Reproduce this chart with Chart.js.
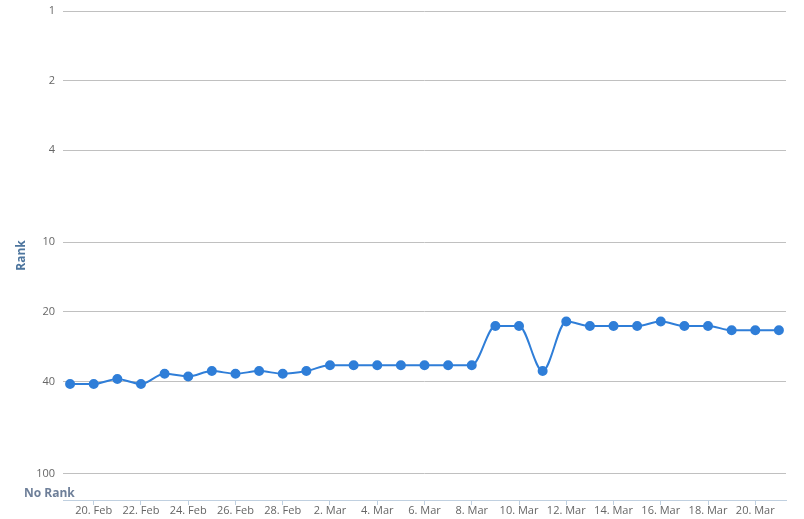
<!DOCTYPE html>
<html>
<head>
<meta charset="utf-8">
<script src="https://cdn.jsdelivr.net/npm/chart.js@4/dist/chart.umd.min.js"></script>
<style>
  html, body { margin: 0; padding: 0; background: #fff; }
  #wrap { width: 804px; height: 519px; position: relative; }
</style>
</head>
<body>
<div id="wrap"><canvas id="chart"></canvas></div>
<script>
//days shown, one point per day (19 Feb .. 21 Mar)
const days = [
  "19. Feb", "20. Feb", "21. Feb", "22. Feb", "23. Feb", "24. Feb", "25. Feb", "26. Feb", "27. Feb", "28. Feb",
  "1. Mar", "2. Mar", "3. Mar", "4. Mar", "5. Mar", "6. Mar", "7. Mar", "8. Mar", "9. Mar", "10. Mar",
  "11. Mar", "12. Mar", "13. Mar", "14. Mar", "15. Mar", "16. Mar", "17. Mar", "18. Mar", "19. Mar", "20. Mar", "21. Mar"
];
//rank on each day
const ranks = [
  41, 41, 39, 41, 37, 38, 36, 37, 36, 37,
  36, 34, 34, 34, 34, 34, 34, 34, 23, 23,
  36, 22, 23, 23, 23, 22, 23, 23, 24, 24, 24
];
//tick labels
const yTicks = [1, 2, 4, 10, 20, 40, 100];
const xTickDays = [1, 3, 5, 7, 9, 11, 13, 15, 17, 19, 21, 23, 25, 27, 29];
const noRankValue = 122;

const labelFont = { family: "'Open Sans', sans-serif", size: 11 };

//draws the bold "No Rank" label next to the bottom of the rank axis
const noRankPlugin = {
  id: "noRank",
  afterDraw(chart) {
    const ctx = chart.ctx;
    const y = chart.scales.y.getPixelForValue(noRankValue);
    ctx.save();
    ctx.font = "bold 12px 'Open Sans', sans-serif";
    ctx.fillStyle = "#6e7f99";
    ctx.textAlign = "left";
    ctx.textBaseline = "middle";
    ctx.fillText("No Rank", 24, y);
    ctx.restore();
  }
};

const ctx = document.getElementById("chart").getContext("2d");
const myChart = new Chart(ctx, {
  type: "line",
  data: {
    datasets: [
      {
        label: "Rank",
        data: ranks.map((r, i) => ({ x: i, y: r })),
        borderColor: "#2f7ed8",
        backgroundColor: "#2f7ed8",
        borderWidth: 2,
        pointRadius: 4,
        pointHoverRadius: 4,
        cubicInterpolationMode: "monotone",
      },
    ],
  },
  options: {
    responsive: true,
    maintainAspectRatio: false,
    animation: false,
    layout: { padding: { top: 11, right: 18, left: 0, bottom: 0 } },
    plugins: {
      legend: { display: false },
      tooltip: { enabled: false },
    },
    scales: {
      x: {
        type: "linear",
        min: -0.3,
        max: 30.3,
        afterBuildTicks: (scale) => {
          scale.ticks = xTickDays.map((v) => ({ value: v }));
        },
        afterFit: (scale) => {
          scale.height = 19;
        },
        ticks: {
          autoSkip: false,
          maxRotation: 0,
          padding: -1,
          color: "#666666",
          font: labelFont,
          callback: (v) => days[v],
        },
        grid: {
          drawOnChartArea: false,
          drawTicks: true,
          tickLength: 5,
          color: "#c0d0e0",
        },
        border: { display: true, color: "#c0d0e0", width: 1 },
      },
      y: {
        type: "logarithmic",
        reverse: true,
        min: 1,
        max: 130,
        afterBuildTicks: (scale) => {
          scale.ticks = yTicks.map((v) => ({ value: v }));
        },
        afterFit: (scale) => {
          scale.width = 63;
          scale.paddingTop = 0;
          scale.paddingBottom = 0;
        },
        ticks: {
          padding: 8,
          color: "#666666",
          font: { family: "'Open Sans', sans-serif", size: 11, lineHeight: 0.8 },
          callback: (v) => String(v),
        },
        grid: {
          drawTicks: false,
          color: "#c0c0c0",
          lineWidth: 1,
        },
        border: { display: false },
        title: {
          display: true,
          text: "Rank",
          color: "#4d759e",
          font: { family: "'Open Sans', sans-serif", size: 12, weight: "bold" },
          padding: { top: 14, bottom: 0 },
        },
      },
    },
  },
  plugins: [noRankPlugin],
});
</script>
</body>
</html>
